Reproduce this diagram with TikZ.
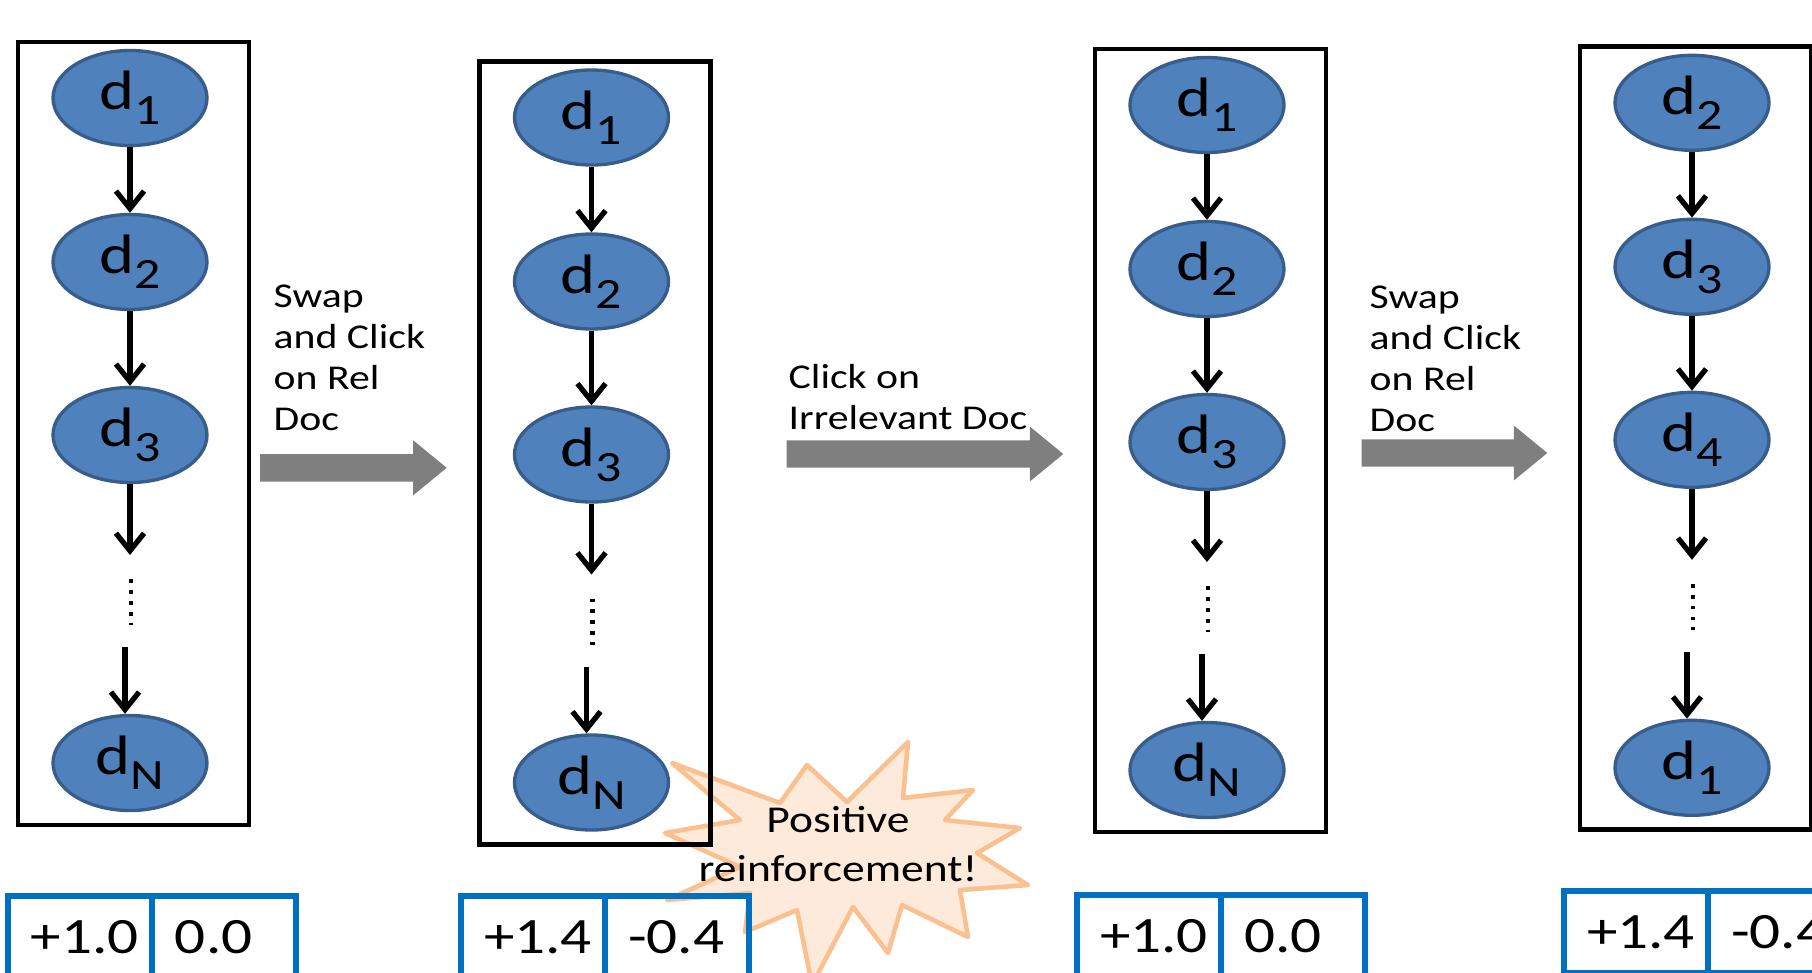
\documentclass[tikz,border=0pt]{standalone}
\usepackage{fontspec}
\setmainfont{Carlito}[FakeStretch=1.2]
\usetikzlibrary{shapes.geometric,arrows.meta}

\definecolor{docblue}{HTML}{4F81BD}
\definecolor{docedge}{HTML}{385D8A}
\definecolor{scoreblue}{HTML}{0070C0}
\definecolor{shiftgrey}{HTML}{7F7F7F}
\definecolor{burstfill}{HTML}{FDEADA}
\definecolor{burstedge}{HTML}{FAC090}

% document with a small subscript
\newcommand\dsub[1]{d\raisebox{-.27em}{\fontsize{12.3}{13}\selectfont #1}}

\tikzset{
  doc/.style={ellipse, fill=docblue, draw=docedge, line width=.95pt,
    minimum width=1.54cm, minimum height=.95cm, inner sep=0pt,
    font=\fontsize{15.8}{18}\selectfont},
  link/.style={-{Straight Barb[length=5pt,width=8pt]}, line width=1.5pt},
  more/.style={line width=1.35pt, dash pattern=on 1.1pt off 2pt},
  listbox/.style={line width=1.35pt},
  score/.style={draw=scoreblue, line width=1.45pt, outer sep=0pt,
    inner xsep=.23cm, text width=.98cm, minimum height=.82cm,
    anchor=north west, font=\fontsize{14.5}{17}\selectfont},
  action/.style={anchor=north west, inner sep=0pt, align=left,
    font=\fontsize{9.9}{11.7}\selectfont},
  cheer/.style={inner sep=0pt, align=center,
    font=\fontsize{10.8}{13.7}\selectfont},
  burst/.style={fill=burstfill, draw=burstedge, line width=1.3pt, line join=round}
}

\begin{document}
\begin{tikzpicture}
   \useasboundingbox (0,0) rectangle (18.12,-9.72);
   \clip (0,0) rectangle (18.12,-9.72);

   % explosion behind the second list
   \filldraw[burst] (6.72,-7.63) -- (7.80,-8.03) -- (8.07,-7.65) -- (8.47,-8.02)
        -- (9.08,-7.42) -- (9.03,-7.98) -- (9.73,-7.90) -- (9.45,-8.20)
        -- (10.20,-8.28) -- (9.77,-8.53) -- (10.28,-8.85) -- (9.60,-8.90)
        -- (9.68,-9.37) -- (9.02,-9.05) -- (8.88,-9.53) -- (8.53,-9.07)
        -- (8.12,-9.85) -- (7.97,-9.10) -- (7.45,-9.32) -- (7.50,-8.93)
        -- (6.67,-9.00) -- (7.40,-8.67) -- (6.65,-8.33) -- (7.40,-8.20) -- cycle;

   % the four rankings
   \foreach \col/\cx/\cy/\da/\db/\dc/\dn in {1/1.30/-0.98/1/2/3/N,
        2/5.915/-1.175/1/2/3/N, 3/12.07/-1.05/1/2/3/N, 4/16.92/-1.028/2/3/4/1}
   {
   \draw[listbox] (\cx-1.12,\cy+0.56) rectangle (\cx+1.19,\cy-7.27);

   \node[doc] (a\col) at (\cx,\cy) {\dsub{\da}};
   \node[doc] (b\col) at (\cx,\cy-1.64) {\dsub{\db}};
   \node[doc] (c\col) at (\cx,\cy-3.37) {\dsub{\dc}};
   \node[doc] (n\col) at (\cx,\cy-6.65) {\dsub{\dn}};

   \coordinate (t\col) at (\cx,\cy-4.57);
   \coordinate (m\col) at (\cx-0.05,\cy-5.49);
   \draw[link] (a\col) -- (b\col);
   \draw[link] (b\col) -- (c\col);
   \draw[link] (c\col) -- (t\col);
   \draw[more] (\cx+0.01,\cy-4.81) -- (\cx+0.01,\cy-5.27);
   \draw[link] (m\col) -- (m\col |- n\col.north);
   }

   % grey block arrows between rankings
   \foreach \xa/\xb/\yc in {2.60/4.467/-4.678, 7.867/10.633/-4.54, 13.617/15.473/-4.53}
   \fill[shiftgrey] (\xa,\yc+.137) -- (\xb-.335,\yc+.137) -- (\xb-.335,\yc+.275)
        -- (\xb,\yc) -- (\xb-.335,\yc-.275) -- (\xb-.335,\yc-.137) -- (\xa,\yc-.137) -- cycle;

   \node[action] (swap1) at (2.73,-2.84) {Swap\\and Click\\on Rel\\Doc};
   \node[action] (click) at (7.88,-3.64) {Click on\\Irrelevant Doc};
   \node[action] (swap2) at (13.69,-2.85) {Swap\\and Click\\on Rel\\Doc};

   % scores under each ranking
   \foreach \k/\x/\y/\gain/\loss in {1/0.08/-8.96/+1.0/0.0, 2/4.61/-8.96/+1.4/-0.4,
        3/10.77/-8.95/+1.0/0.0, 4/15.64/-8.91/+1.4/-0.4}
   {
   \node[score] (g\k) at (\x,\y) {\gain};
   \node[score] (l\k) at (g\k.north east) {\loss};
   }

   \node[cheer] (cheer) at (8.38,-8.44) {Positive\\reinforcement!};

\end{tikzpicture}
\end{document}
